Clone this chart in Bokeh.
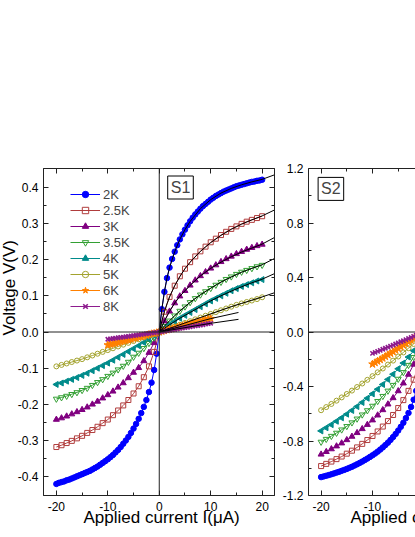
import math
from bokeh.plotting import figure
from bokeh.models import (Range1d, LinearAxis, FixedTicker, PrintfTickFormatter,
                          Span, Label, Legend, LegendItem, Title)
from bokeh.layouts import row
from bokeh.embed import file_html
from bokeh.resources import INLINE

FONT = "Liberation Sans"

# ---------------- data: sample S1 ----------------
series_names = ["2K", "2.5K", "3K", "3.5K", "4K", "5K", "6K", "8K"]

I_fine = [-20, -19.5, -19, -18.5, -18, -17.5, -17, -16.5, -16, -15.5, -15, -14.5, -14, -13.5,
          -13, -12.5, -12, -11.5, -11, -10.5, -10, -9.5, -9, -8.5, -8, -7.5, -7, -6.5, -6,
          -5.5, -5, -4.5, -4, -3.5, -3, -2.5, -2, -1.5, -1, -0.5, 0, 0.5, 1, 1.5, 2, 2.5, 3,
          3.5, 4, 4.5, 5, 5.5, 6, 6.5, 7, 7.5, 8, 8.5, 9, 9.5, 10, 10.5, 11, 11.5, 12, 12.5,
          13, 13.5, 14, 14.5, 15, 15.5, 16, 16.5, 17, 17.5, 18, 18.5, 19, 19.5, 20]
I_int = [-20, -19, -18, -17, -16, -15, -14, -13, -12, -11, -10, -9, -8, -7, -6, -5, -4, -3,
         -2, -1, 0, 1, 2, 3, 4, 5, 6, 7, 8, 9, 10, 11, 12, 13, 14, 15, 16, 17, 18, 19, 20]
I_mid = [-10, -9.5, -9, -8.5, -8, -7.5, -7, -6.5, -6, -5.5, -5, -4.5, -4, -3.5, -3, -2.5, -2,
         -1.5, -1, -0.5, 0, 0.5, 1, 1.5, 2, 2.5, 3, 3.5, 4, 4.5, 5, 5.5, 6, 6.5, 7, 7.5, 8,
         8.5, 9, 9.5, 10]

V1_2K = [-0.420, -0.417, -0.415, -0.413, -0.410, -0.408, -0.405, -0.402, -0.399, -0.396,
         -0.393, -0.390, -0.387, -0.384, -0.380, -0.376, -0.372, -0.367, -0.362, -0.357,
         -0.352, -0.346, -0.340, -0.333, -0.326, -0.318, -0.309, -0.300, -0.290, -0.279,
         -0.267, -0.254, -0.240, -0.224, -0.207, -0.188, -0.166, -0.140, -0.105, -0.060, 0.0,
         0.063, 0.111, 0.149, 0.178, 0.202, 0.222, 0.240, 0.256, 0.270, 0.283, 0.295, 0.306,
         0.316, 0.325, 0.333, 0.341, 0.348, 0.354, 0.360, 0.366, 0.371, 0.376, 0.380, 0.384,
         0.388, 0.391, 0.394, 0.397, 0.400, 0.403, 0.405, 0.407, 0.409, 0.411, 0.413, 0.415,
         0.416, 0.418, 0.419, 0.421]
V1_25K = [-0.318, -0.313, -0.307, -0.301, -0.294, -0.287, -0.279, -0.271, -0.262, -0.252,
          -0.242, -0.230, -0.217, -0.203, -0.188, -0.170, -0.150, -0.125, -0.095, -0.055, 0.0,
          0.056, 0.097, 0.128, 0.154, 0.175, 0.193, 0.209, 0.223, 0.236, 0.248, 0.258, 0.268,
          0.277, 0.285, 0.292, 0.299, 0.305, 0.310, 0.315, 0.320]
V1_3K = [-0.242, -0.238, -0.233, -0.227, -0.221, -0.215, -0.208, -0.200, -0.192, -0.183,
         -0.174, -0.164, -0.153, -0.141, -0.127, -0.112, -0.099, -0.080, -0.057, -0.030, 0.0,
         0.030, 0.057, 0.080, 0.099, 0.114, 0.129, 0.143, 0.155, 0.166, 0.176, 0.185, 0.194,
         0.202, 0.209, 0.216, 0.222, 0.228, 0.233, 0.238, 0.242]
V1_35K = [-0.185, -0.181, -0.177, -0.172, -0.167, -0.161, -0.155, -0.147, -0.139, -0.131,
          -0.122, -0.113, -0.104, -0.094, -0.083, -0.069, -0.058, -0.045, -0.031, -0.016, 0.0,
          0.016, 0.031, 0.045, 0.058, 0.070, 0.082, 0.093, 0.103, 0.112, 0.121, 0.130, 0.138,
          0.146, 0.153, 0.160, 0.166, 0.171, 0.176, 0.181, 0.185]
V1_4K = [-0.145, -0.141, -0.136, -0.131, -0.126, -0.120, -0.114, -0.107, -0.100, -0.093,
         -0.086, -0.078, -0.070, -0.062, -0.054, -0.046, -0.038, -0.029, -0.020, -0.010, 0.0,
         0.010, 0.020, 0.029, 0.038, 0.046, 0.054, 0.062, 0.070, 0.078, 0.086, 0.093, 0.100,
         0.107, 0.114, 0.120, 0.126, 0.131, 0.136, 0.141, 0.145]
V1_5K = [-0.095, -0.091, -0.087, -0.083, -0.079, -0.075, -0.070, -0.065, -0.060, -0.055,
         -0.050, -0.045, -0.040, -0.035, -0.030, -0.025, -0.020, -0.015, -0.010, -0.005, 0.0,
         0.005, 0.010, 0.015, 0.020, 0.025, 0.030, 0.035, 0.040, 0.045, 0.050, 0.055, 0.060,
         0.065, 0.070, 0.075, 0.079, 0.083, 0.087, 0.091, 0.096]
V1_6K = [-0.036, -0.034, -0.032, -0.031, -0.029, -0.027, -0.025, -0.023, -0.022, -0.020,
         -0.018, -0.016, -0.014, -0.013, -0.011, -0.009, -0.007, -0.005, -0.004, -0.002, 0.0,
         0.002, 0.004, 0.006, 0.008, 0.0095, 0.011, 0.013, 0.015, 0.017, 0.019, 0.021, 0.0225,
         0.024, 0.026, 0.028, 0.030, 0.0315, 0.033, 0.035, 0.037]
V1_8K = [-0.020, -0.019, -0.018, -0.017, -0.016, -0.015, -0.014, -0.013, -0.012, -0.011,
         -0.010, -0.009, -0.008, -0.007, -0.006, -0.005, -0.004, -0.003, -0.002, -0.001, 0.0,
         0.001, 0.002, 0.004, 0.005, 0.006, 0.007, 0.008, 0.010, 0.011, 0.012, 0.013, 0.014,
         0.016, 0.017, 0.018, 0.019, 0.020, 0.022, 0.023, 0.024]

# fitted curves (positive branch, S1)
I_fit = [0, 0.5, 1, 1.5, 2, 3, 4, 5, 6, 8, 10, 12, 14, 16, 18, 20, 22.5]
fit_2K = [0, 0.063, 0.111, 0.149, 0.178, 0.222, 0.256, 0.283, 0.306, 0.341, 0.366, 0.384,
          0.397, 0.407, 0.415, 0.422, 0.435]
fit_25K = [0, 0.030, 0.056, 0.078, 0.097, 0.128, 0.153, 0.175, 0.193, 0.223, 0.247, 0.267,
           0.284, 0.298, 0.310, 0.321, 0.338]
fit_3K = [0, 0.015, 0.030, 0.044, 0.057, 0.080, 0.099, 0.114, 0.129, 0.155, 0.176, 0.193,
          0.208, 0.221, 0.232, 0.243, 0.262]
fit_35K = [0, 0.008, 0.016, 0.024, 0.031, 0.045, 0.058, 0.070, 0.082, 0.103, 0.121, 0.138,
           0.152, 0.165, 0.176, 0.186, 0.204]
fit_4K = [0, 0.005, 0.010, 0.015, 0.020, 0.029, 0.038, 0.046, 0.054, 0.070, 0.086, 0.100,
          0.113, 0.125, 0.136, 0.146, 0.162]
fit_5K = [0, 0.0025, 0.005, 0.0075, 0.010, 0.015, 0.020, 0.025, 0.030, 0.040, 0.050, 0.060,
          0.070, 0.079, 0.088, 0.097, 0.109]
I_fit_short = [0, 5, 10, 15.4]
fit_6K = [0, 0.018, 0.037, 0.054]
fit_8K = [0, 0.012, 0.024, 0.035]

# ---------------- data: sample S2 (visible part, negative currents) ----------------
I2_fine = [-20, -19.5, -19, -18.5, -18, -17.5, -17, -16.5, -16, -15.5, -15, -14.5, -14,
           -13.5, -13, -12.5, -12, -11.5, -11, -10.5, -10, -9.5, -9, -8.5, -8, -7.5, -7,
           -6.5, -6, -5.5, -5, -4.5, -4, -3.5, -3, -2.5, -2, -1.5, -1, -0.5, 0]
I2_int = [-20, -19, -18, -17, -16, -15, -14, -13, -12, -11, -10, -9, -8, -7, -6, -5, -4,
          -3, -2, -1, 0]
I2_mid = [-10, -9.5, -9, -8.5, -8, -7.5, -7, -6.5, -6, -5.5, -5, -4.5, -4, -3.5, -3, -2.5,
          -2, -1.5, -1, -0.5, 0]

V2_2K = [-1.065, -1.060, -1.055, -1.050, -1.044, -1.038, -1.032, -1.026, -1.019, -1.012,
         -1.005, -0.997, -0.989, -0.980, -0.971, -0.961, -0.951, -0.940, -0.929, -0.917,
         -0.905, -0.892, -0.878, -0.863, -0.847, -0.830, -0.812, -0.792, -0.771, -0.748,
         -0.723, -0.696, -0.666, -0.632, -0.594, -0.550, -0.497, -0.432, -0.345, -0.215, 0.0]
V2_25K = [-0.984, -0.968, -0.951, -0.933, -0.914, -0.893, -0.871, -0.847, -0.821, -0.793,
          -0.763, -0.730, -0.694, -0.654, -0.609, -0.558, -0.500, -0.432, -0.350, -0.240, 0.0]
V2_3K = [-0.898, -0.879, -0.859, -0.838, -0.816, -0.792, -0.767, -0.740, -0.711, -0.680,
         -0.647, -0.611, -0.572, -0.530, -0.484, -0.433, -0.376, -0.312, -0.238, -0.145, 0.0]
V2_35K = [-0.807, -0.786, -0.764, -0.741, -0.717, -0.692, -0.665, -0.637, -0.607, -0.576,
          -0.543, -0.508, -0.471, -0.432, -0.390, -0.345, -0.296, -0.243, -0.185, -0.110, 0.0]
V2_4K = [-0.726, -0.703, -0.680, -0.655, -0.630, -0.603, -0.576, -0.547, -0.517, -0.486,
         -0.454, -0.420, -0.385, -0.348, -0.310, -0.270, -0.228, -0.184, -0.137, -0.080, 0.0]
V2_5K = [-0.574, -0.551, -0.528, -0.504, -0.480, -0.455, -0.430, -0.404, -0.378, -0.351,
         -0.324, -0.296, -0.268, -0.239, -0.210, -0.180, -0.150, -0.119, -0.088, -0.050, 0.0]
V2_6K = [-0.236, -0.225, -0.214, -0.203, -0.192, -0.180, -0.168, -0.157, -0.145, -0.133,
         -0.121, -0.109, -0.097, -0.085, -0.073, -0.061, -0.049, -0.037, -0.025, -0.012, 0.0]
V2_8K = [-0.157, -0.150, -0.142, -0.135, -0.127, -0.119, -0.111, -0.104, -0.096, -0.088,
         -0.080, -0.072, -0.064, -0.056, -0.048, -0.040, -0.032, -0.024, -0.016, -0.008, 0.0]

# ---------------- ticks / texts ----------------
x_ticks = [-20, -10, 0, 10, 20]
x_minor = [-15, -5, 5, 15]
y1_ticks = [-0.4, -0.3, -0.2, -0.1, 0.0, 0.1, 0.2, 0.3, 0.4]
y1_minor = [-0.35, -0.25, -0.15, -0.05, 0.05, 0.15, 0.25, 0.35]
y2_ticks = [-1.2, -0.8, -0.4, 0.0, 0.4, 0.8, 1.2]
y2_minor = [-1.0, -0.6, -0.2, 0.2, 0.6, 1.0]
x_title = "Applied current I(\u03bcA)"
y_title = "Voltage V(V)"

# ---------------- styles ----------------
colors = ["#0000ff", "#b03c3c", "#800080", "#33a033", "#008b8b", "#a3a32e", "#ff8000", "#8e1c8e"]
markers = ["circle", "square", "triangle", "inverted_triangle", "triangle", "circle", "star", "x"]
angles = [0, 0, 0, 0, math.pi / 2, 0, 0, 0]
filled = [True, False, True, False, True, False, True, False]
sizes = [5.5, 5, 6, 6, 6, 5, 8, 6]
widths = [1, 1, 1, 1, 1, 1, 1, 1.6]
AX = "#222222"
H = 535


def make_axis(ticks, minor, fmt, labels=True, standoff=5):
    ax = LinearAxis(ticker=FixedTicker(ticks=ticks, minor_ticks=minor),
                    formatter=PrintfTickFormatter(format=fmt if labels else " "))
    ax.major_tick_in = 5
    ax.major_tick_out = 0
    ax.minor_tick_in = 3
    ax.minor_tick_out = 0
    ax.axis_line_color = AX
    ax.major_tick_line_color = AX
    ax.minor_tick_line_color = AX
    ax.major_label_text_font = FONT
    ax.major_label_text_font_size = "12px"
    ax.major_label_text_color = "#000000"
    if labels:
        ax.major_label_standoff = standoff
    else:
        ax.major_label_text_alpha = 0
        ax.major_label_standoff = 0
    return ax


def base_fig(width, x0, x1, y0, y1, left, right, outline):
    p = figure(width=width, height=H, x_range=Range1d(x0, x1), y_range=Range1d(y0, y1),
               output_backend="svg", toolbar_location=None,
               x_axis_location=None, y_axis_location=None,
               min_border_left=left, min_border_right=right,
               min_border_top=168, min_border_bottom=H - 495)
    p.grid.grid_line_color = None
    p.outline_line_color = AX if outline else None
    return p


def x_title_obj(offset):
    return Title(text=x_title, align="left", offset=offset, vertical_align="top",
                 standoff=-11, text_font=FONT, text_font_size="17px",
                 text_font_style="normal", text_color="#000000")


# ================= S1 =================
p1 = base_fig(278, -22.5, 22.4, -0.452, 0.452, 43, 4, True)
p1.add_layout(make_axis(x_ticks, x_minor, "%d", standoff=6), "below")
p1.add_layout(make_axis(y1_ticks, y1_minor, "%.1f", standoff=5), "left")
p1.add_layout(make_axis(x_ticks, x_minor, "%d", labels=False), "above")
p1.add_layout(make_axis(y1_ticks, y1_minor, "%.1f", labels=False), "right")
p1.add_layout(Span(location=0, dimension="height", line_color=AX, line_width=1))
p1.add_layout(Span(location=0, dimension="width", line_color=AX, line_width=1))

s1_x = [I_fine, I_int, I_int, I_int, I_int, I_int, I_mid, I_mid]
s1_y = [V1_2K, V1_25K, V1_3K, V1_35K, V1_4K, V1_5K, V1_6K, V1_8K]
items = []
for k in range(8):
    c = colors[k]
    lr = p1.line(s1_x[k], s1_y[k], line_color=c, line_width=1)
    sr = p1.scatter(s1_x[k], s1_y[k], marker=markers[k], size=sizes[k], angle=angles[k],
                    line_color=c, line_width=widths[k],
                    fill_color=c if filled[k] else None)
    items.append(LegendItem(label=series_names[k], renderers=[lr, sr]))

for f in [fit_2K, fit_25K, fit_3K, fit_35K, fit_4K, fit_5K]:
    p1.line(I_fit, f, line_color="#000000", line_width=1)
for f in [fit_6K, fit_8K]:
    p1.line(I_fit_short, f, line_color="#000000", line_width=1)

legend = Legend(items=items, location=(27, 181), padding=0, margin=0, spacing=0,
                glyph_width=30, glyph_height=16, label_height=16, label_standoff=3,
                label_text_font=FONT, label_text_font_size="13px",
                border_line_color=None, background_fill_alpha=0)
p1.add_layout(legend)

p1.add_layout(Label(x=137, y=308, x_units="screen", y_units="screen", text="S1",
                    text_font=FONT, text_font_size="16px", text_align="center",
                    text_baseline="middle", border_line_color="#000000",
                    background_fill_color="white", padding=3))
p1.add_layout(x_title_obj(40), "below")
p1.add_layout(Title(text=y_title, align="left", offset=160, vertical_align="top",
                    standoff=-12, text_font=FONT, text_font_size="17px",
                    text_font_style="normal", text_color="#000000"), "left")

# ================= S2 =================
p2 = base_fig(137, -22.45, -1.64, -1.2, 1.2, 30, 0, False)
p2.add_layout(make_axis(x_ticks, x_minor, "%d", standoff=6), "below")
p2.add_layout(make_axis(y2_ticks, y2_minor, "%.1f", standoff=5), "left")
p2.add_layout(make_axis(x_ticks, x_minor, "%d", labels=False), "above")
p2.add_layout(Span(location=0, dimension="width", line_color=AX, line_width=1))

s2_x = [I2_fine, I2_int, I2_int, I2_int, I2_int, I2_int, I2_mid, I2_mid]
s2_y = [V2_2K, V2_25K, V2_3K, V2_35K, V2_4K, V2_5K, V2_6K, V2_8K]
for k in range(8):
    c = colors[k]
    p2.line(s2_x[k], s2_y[k], line_color=c, line_width=1)
    p2.scatter(s2_x[k], s2_y[k], marker=markers[k], size=sizes[k], angle=angles[k],
               line_color=c, line_width=widths[k], fill_color=c if filled[k] else None)

p2.add_layout(Label(x=22.4, y=306.6, x_units="screen", y_units="screen", text="S2",
                    text_font=FONT, text_font_size="16px", text_align="center",
                    text_baseline="middle", border_line_color="#000000",
                    background_fill_color="white", padding=3))
p2.add_layout(x_title_obj(42), "below")

layout = row(p1, p2)
open("out.html", "w").write(file_html(layout, INLINE))
